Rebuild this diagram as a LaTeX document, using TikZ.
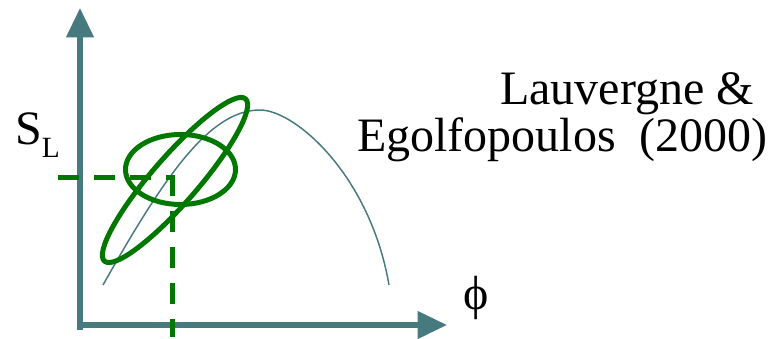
\documentclass[tikz,border=0pt]{standalone}
\usepackage{fontspec}
\setmainfont{Liberation Serif}
\newfontfamily\labelfont{Liberation Serif}
\usetikzlibrary{arrows.meta}
\definecolor{axisteal}{RGB}{70,122,126}
\definecolor{ellgreen}{RGB}{0,120,0}

\begin{document}
\begin{tikzpicture}[x=0.75pt,y=0.75pt,
  axis/.style={axisteal,line width=4pt,-{Triangle[length=22pt,width=20pt]}},
  spread/.style={ellgreen,line width=3.75pt},
  mean/.style={ellgreen,line width=3.75pt,dash pattern=on 15.75pt off 11.25pt},
  lbl/.style={inner sep=0pt,font=\labelfont\fontsize{36}{36}\selectfont}]
  \useasboundingbox (-80,-14) rectangle (689,325);
  % axes
  \draw[axis] (0,-5) -- (0,317);
  \draw[axis] (-2,0) -- (367,0);
  % flame speed curve
  \draw[axisteal,line width=1.1pt] (23,40) .. controls (85,150) and (130,215) .. (180,215)
    .. controls (215,215) and (290,150) .. (309,40);
  % scatter ellipses
  \draw[spread] (95,145) ellipse [x radius=107.5,y radius=23,rotate=49];
  \draw[spread] (100.5,155.5) ellipse [x radius=55,y radius=35];
  \draw[mean] (-22,147.5) -- (92.5,147.5);
  \draw[mean] (92.5,150) -- (92.5,-12);
  % labels
  \node[lbl,anchor=base west] (sl) at (-65,180) {S\raisebox{-9.75pt}{\fontsize{22}{22}\selectfont L}};
  \node[lbl,anchor=base west] (phi) at (383,15) {ϕ};
  \node[lbl,anchor=base west] (ref1) at (420,220) {Lauvergne \&};
  \node[lbl,anchor=base west] (ref2) at (277,173) {Egolfopoulos\ \ (2000)};
\end{tikzpicture}
\end{document}
